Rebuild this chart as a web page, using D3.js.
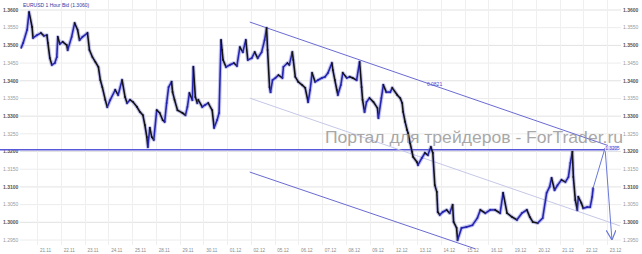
<!DOCTYPE html>
<html><head><meta charset="utf-8">
<script src="https://cdn.jsdelivr.net/npm/d3@7"></script>
<style>html,body{margin:0;padding:0;background:#fff;}svg{display:block;}</style>
</head><body>
<svg id="c" width="642" height="254"></svg>
<script>
// ---- data ----
const title = "EURUSD 1 Hour Bid (1.3060)";
const dayLabels = ["21.11","22.11","23.11","24.11","25.11","28.11","29.11","30.11","01.12","02.12","05.12","06.12","07.12","08.12","09.12","12.12","13.12","14.12","15.12","16.12","19.12","20.12","21.12","22.12","23.12"];
const priceTicks = [1.2950,1.3000,1.3050,1.3100,1.3150,1.3200,1.3250,1.3300,1.3350,1.3400,1.3450,1.3500,1.3550,1.3600];
// hour index counted from the start of 21.11 (trading hours only)
const hours = [-16,-14,-10,-8,-5,-4,0,4,7,10,11,13,15,18,20,21,23,26,30,31,35,38,41,43,46,51,53,56,59,62,64,66,69,71,74,79,82,86,89,91,94,97,101,104,107,109,111,112,114,116,118,
121,124,127,129,131,133,136,137,139,142,147,150,152,154,157,158,160,162,163,167,170,173,177,179,182,184,186,187,188,191,195,199,202,205,208,211,213,217,220,223,227,230,232,233,235,236,238,
241,244,248,249,253,255,258,259,261,264,268,271,274,276,278,281,284,288,291,294,298,299,301,303,304,307,309,313,316,319,323,326,328,329,331,333,336,340,344,345,348,350,353,357,359,
364,367,369,370,372,374,375,377,379,380,384,385,389,392,395,398,400,402,404,405,407,410,414,417,420,421,424,425,429,434,440,445,448,453,458,463,468,471,475,
480,485,490,495,498,501,506,511,515,518,520,523,526,530,534,537,539,541,542,544,546,547,550,552,556,559,561,562];
const prices = [1.3493,1.3507,1.3544,1.3594,1.3552,1.3521,1.3529,1.3535,1.3527,1.3529,1.3507,1.3464,1.3445,1.3450,1.3467,1.3524,1.3504,1.3510,1.3501,1.3487,1.3524,1.3563,1.3544,1.3515,1.3524,1.3535,1.3487,1.3467,1.3453,1.3439,1.3402,1.3382,1.3346,1.3326,1.3346,1.3374,1.3360,1.3402,1.3354,1.3337,1.3346,1.3340,1.3326,1.3312,1.3303,1.3275,1.3241,1.3213,1.3267,1.3241,1.3233,
1.3317,1.3309,1.3289,1.3284,1.3337,1.3382,1.3397,1.3368,1.3346,1.3317,1.3309,1.3303,1.3326,1.3365,1.3346,1.3439,1.3354,1.3337,1.3346,1.3326,1.3332,1.3337,1.3317,1.3267,1.3289,1.3309,1.3515,1.3487,1.3459,1.3439,1.3445,1.3450,1.3442,1.3495,1.3481,1.3515,1.3459,1.3464,1.3481,1.3464,1.3481,1.3515,1.3549,1.3487,1.3382,1.3368,1.3402,
1.3408,1.3416,1.3408,1.3439,1.3450,1.3445,1.3481,1.3459,1.3411,1.3397,1.3388,1.3380,1.3340,1.3374,1.3422,1.3397,1.3402,1.3408,1.3411,1.3422,1.3450,1.3430,1.3402,1.3374,1.3360,1.3388,1.3422,1.3408,1.3411,1.3408,1.3402,1.3453,1.3382,1.3346,1.3312,1.3340,1.3351,1.3340,1.3323,1.3295,1.3351,1.3388,1.3368,1.3368,1.3380,
1.3360,1.3351,1.3337,1.3312,1.3284,1.3261,1.3252,1.3224,1.3199,1.3185,1.3170,1.3162,1.3182,1.3196,1.3190,1.3213,1.3196,1.3105,1.3086,1.3029,1.3021,1.3029,1.3035,1.3026,1.3049,1.3001,1.2984,1.2950,1.2984,1.2987,1.2992,1.3012,1.3035,1.3026,1.3035,1.3035,1.3026,1.3083,1.3026,
1.3015,1.3007,1.3026,1.3035,1.3015,1.3001,1.2998,1.3012,1.3083,1.3100,1.3125,1.3091,1.3105,1.3120,1.3114,1.3128,1.3168,1.3199,1.3128,1.3063,1.3035,1.3072,1.3055,1.3040,1.3043,1.3043,1.3072,1.3097];
// channel (start/end hour and price)
const channelHours = [215, 577];
const upperPrices = [1.3566, 1.3217];
const middleHours = [215, 589];
const middlePrices = [1.3351, 1.2990];
const lowerHours = [215, 443];
const lowerPrices = [1.3142, 1.2925];
const channelLabel = {text: "0.0821", hour: 394, price: 1.3386};
const levelPrice = 1.3205, levelLabel = "1.3205", levelEndHour = 574;
const forecastHours = [562, 574, 581];
const forecastPrices = [1.3097, 1.3210, 1.2950];
const watermark = "Портал для трейдеров - ForTrader.ru";

// ---- drawing ----
const svg = d3.select("#c");
const x = d3.scaleLinear().domain([0, 576]).range([37, 607]);
const y = d3.scaleLinear().domain([1.295, 1.36]).range([240, 10]);
const plotL = 20, plotR = 621, plotT = 0, plotB = 245;
const font = "'Liberation Sans', Arial, sans-serif";

// grid
const g = svg.append("g");
g.selectAll("line.h").data(priceTicks).join("line")
  .attr("x1", plotL).attr("x2", plotR)
  .attr("y1", d => y(d)).attr("y2", d => y(d))
  .attr("stroke", d => Math.round(d*1000)%10===0 ? "#e2e2e2" : "#ececec").attr("stroke-width", 1);
g.selectAll("line.v").data(dayLabels).join("line")
  .attr("x1", (d,i) => Math.round(x(24*i))+0.5).attr("x2", (d,i) => Math.round(x(24*i))+0.5)
  .attr("y1", plotT).attr("y2", plotB)
  .attr("stroke", "#efefef").attr("stroke-width", 1);

// y labels both sides
const fmt = d3.format(".4f");
[3, 623].forEach(lx => {
  svg.append("g").selectAll("text").data(priceTicks).join("text")
    .attr("x", lx).attr("y", d => y(d)).attr("dy", "0.35em")
    .attr("font-family", font).attr("font-size", 5)
    .attr("font-weight", d => Math.round(d*1000)%10===0 ? "bold" : "normal")
    .attr("fill", d => Math.round(d*1000)%10===0 ? "#555" : "#999")
    .text(d => fmt(d));
});

// x labels
svg.append("g").selectAll("text").data(dayLabels).join("text")
  .attr("x", (d,i) => x(24*i) + 8.5).attr("y", 251.5)
  .attr("text-anchor", "middle")
  .attr("font-family", font).attr("font-size", 4.6).attr("fill", "#8a8a8a")
  .text(d => d);

// level line
svg.append("line")
  .attr("x1", 0).attr("x2", x(levelEndHour))
  .attr("y1", y(levelPrice)).attr("y2", y(levelPrice))
  .attr("stroke", "#5858d8").attr("stroke-width", 1.3);

// channel lines
function seg(hs, ps, color, w) {
  svg.append("line")
    .attr("x1", x(hs[0])).attr("y1", y(ps[0]))
    .attr("x2", x(hs[1])).attr("y2", y(ps[1]))
    .attr("stroke", color).attr("stroke-width", w);
}
seg(channelHours, upperPrices, "#6a6ad2", 1);
seg(middleHours, middlePrices, "#c4c8e6", 1);
seg(lowerHours, lowerPrices, "#6a6ad2", 1);
svg.append("text").attr("x", x(channelLabel.hour)).attr("y", y(channelLabel.price))
  .attr("font-family", font).attr("font-size", 5).attr("fill", "#4848d0").text(channelLabel.text);

// price series: soft band + segments coloured by direction
const pts = hours.map((h,i) => ({h, p: prices[i]}));
svg.append("path")
  .attr("d", d3.line().x(d => x(d.h)).y(d => y(d.p))(pts))
  .attr("fill", "none").attr("stroke", "#7878dc").attr("stroke-width", 3.8)
  .attr("stroke-linejoin", "round").attr("opacity", 0.45);
svg.append("g").selectAll("line").data(pts.slice(1)).join("line")
  .attr("x1", (d,i) => x(pts[i].h)).attr("y1", (d,i) => y(pts[i].p))
  .attr("x2", d => x(d.h)).attr("y2", d => y(d.p))
  .attr("stroke", (d,i) => d.p >= pts[i].p ? "#2424b0" : "#121212")
  .attr("stroke-width", 1.6).attr("stroke-linecap", "square");

// forecast arrow
svg.append("defs").append("marker").attr("id", "arr")
  .attr("viewBox", "0 0 10 10").attr("refX", 10).attr("refY", 5)
  .attr("markerWidth", 10).attr("markerHeight", 10).attr("orient", "auto")
  .attr("markerUnits", "userSpaceOnUse")
  .append("path").attr("d", "M0,0 L10,5 L0,10").attr("fill", "none").attr("stroke", "#6a78d8").attr("stroke-width", 1.2);
svg.append("path")
  .attr("d", d3.line().x(d => x(d[0])).y(d => y(d[1]))(forecastHours.map((h,i) => [h, forecastPrices[i]])))
  .attr("fill", "none").attr("stroke", "#6a78d8").attr("stroke-width", 1)
  .attr("marker-end", "url(#arr)");

// level label
const lx = x(levelEndHour), ly = y(levelPrice);
svg.append("rect").attr("x", lx).attr("y", ly - 4).attr("width", 13).attr("height", 5.5).attr("fill", "#dfe4fb");
svg.append("text").attr("x", lx + 0.5).attr("y", ly).attr("font-family", font).attr("font-size", 4.6)
  .attr("fill", "#3a3ad0").text(levelLabel);

// title
svg.append("text").attr("x", 23).attr("y", 6.5).attr("font-family", font).attr("font-size", 5)
  .attr("fill", "#3535a0").text(title);

// watermark
svg.append("text").attr("x", 325).attr("y", 143).attr("font-family", font).attr("font-size", 17)
  .attr("textLength", 298).attr("lengthAdjust", "spacingAndGlyphs")
  .attr("fill", "#8c8c8c").attr("opacity", 0.75).text(watermark);
</script>
</body></html>
